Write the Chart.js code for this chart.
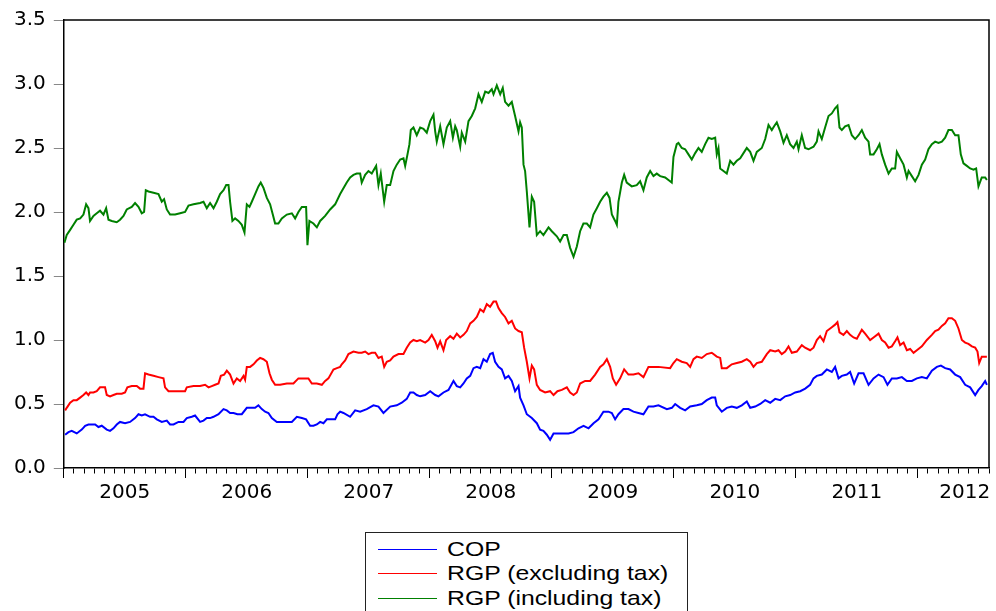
<!DOCTYPE html>
<html><head><meta charset="utf-8">
<script src="https://cdn.jsdelivr.net/npm/chart.js@4.4.1/dist/chart.umd.min.js"></script>
<style>
html,body{margin:0;padding:0;background:#fff;}
#wrap{position:relative;width:996px;height:611px;overflow:hidden;background:#fff;}
#c{position:absolute;left:0;top:0;}
#legend{position:absolute;left:365px;top:532px;width:321px;height:100px;border:1px solid #222;background:#fff;}
.ln{position:absolute;left:12px;width:59px;height:1px;}
.tx{position:absolute;left:81px;font-family:"Liberation Sans",Arial,sans-serif;font-size:21px;line-height:21px;transform:scaleX(1.18);transform-origin:0 50%;white-space:nowrap;color:#000;}
</style></head>
<body><div id="wrap"><canvas id="c" width="996" height="611"></canvas><div id="legend"></div></div>
<script>
// time values are years elapsed since 1 Jan 2005
const BASE_YEAR = 2005;
const END_YEAR = 2012 + 7/12;
const yearLabels = ['2005','2006','2007','2008','2009','2010','2011','2012'];
const seriesNames = ['COP','RGP (excluding tax)','RGP (including tax)'];
const seriesColors = ['#0000ff','#ff0000','#008000'];
const yTickValues = [0,0.5,1,1.5,2,2.5,3,3.5];

const copT = [
0.011,0.038,0.065,0.106,0.147,0.175,0.202,0.229,0.257,0.284,
0.311,0.352,0.379,0.407,0.434,0.461,0.502,0.543,0.584,0.612,
0.639,0.666,0.707,0.735,0.762,0.803,0.844,0.871,0.899,0.940,
0.981,1.008,1.049,1.076,1.117,1.145,1.172,1.199,1.227,1.268,
1.309,1.336,1.363,1.391,1.423,1.459,1.500,1.541,1.568,1.595,
1.623,1.650,1.677,1.705,1.746,1.787,1.828,1.869,1.910,1.951,
1.986,2.019,2.046,2.074,2.101,2.128,2.156,2.197,2.224,2.243,
2.265,
2.292,2.347,2.388,2.429,2.483,2.538,2.579,2.620,2.675,2.729,
2.770,2.811,2.839,2.866,2.893,2.921,2.962,3.003,3.044,3.071,
3.112,3.153,3.194,3.221,3.249,3.276,3.303,3.331,3.358,3.385,
3.413,3.440,3.467,3.494,3.516,3.535,3.563,3.590,3.617,3.645,
3.672,3.699,3.727,3.740,3.768,3.795,3.836,3.877,3.904,3.931,
3.959,3.986,4.014,4.055,4.096,4.137,4.178,4.219,4.260,4.301,
4.342,4.383,4.423,4.464,4.492,4.519,4.546,4.587,4.628,4.669,
4.710,4.751,4.792,4.833,4.874,
4.943,4.984,5.011,5.052,5.093,5.134,5.188,5.229,5.270,5.311,
5.339,5.352,5.393,5.434,5.475,5.516,5.557,5.598,5.626,5.667,
5.708,5.749,5.790,5.831,5.872,5.913,5.954,5.995,6.036,6.077,
6.117,6.145,6.172,6.213,6.254,6.295,6.322,6.350,6.377,6.418,
6.445,6.478,6.514,6.555,6.596,6.637,6.678,6.719,6.751,6.787,
6.828,6.869,6.910,6.951,6.992,7.033,7.074,7.115,7.156,7.189,
7.224,7.265,7.306,7.347,7.388,7.429,7.470,7.497,7.524,7.552,
7.566];
const copV = [
0.26,0.28,0.29,0.27,0.30,0.33,0.34,0.34,0.34,0.32,
0.33,0.30,0.29,0.31,0.34,0.36,0.35,0.36,0.39,0.42,
0.41,0.42,0.40,0.40,0.38,0.36,0.37,0.34,0.34,0.36,
0.36,0.39,0.40,0.41,0.36,0.37,0.39,0.39,0.40,0.42,
0.46,0.45,0.43,0.43,0.42,0.42,0.47,0.47,0.47,0.49,
0.46,0.44,0.43,0.39,0.36,0.36,0.36,0.36,0.40,0.39,
0.38,0.33,0.33,0.34,0.36,0.35,0.38,0.38,0.38,0.42,
0.44,
0.43,0.40,0.45,0.44,0.46,0.49,0.48,0.43,0.48,0.49,
0.51,0.54,0.59,0.59,0.57,0.56,0.57,0.60,0.57,0.56,
0.59,0.61,0.68,0.64,0.63,0.66,0.70,0.72,0.78,0.79,
0.78,0.85,0.83,0.89,0.90,0.83,0.79,0.77,0.70,0.72,
0.68,0.60,0.64,0.55,0.49,0.42,0.39,0.35,0.30,0.29,
0.26,0.22,0.27,0.27,0.27,0.27,0.28,0.31,0.33,0.31,
0.35,0.38,0.44,0.44,0.43,0.38,0.42,0.46,0.46,0.44,
0.43,0.42,0.48,0.48,0.49,
0.46,0.47,0.50,0.47,0.45,0.48,0.49,0.50,0.53,0.55,
0.55,0.49,0.44,0.47,0.48,0.47,0.49,0.52,0.47,0.48,
0.50,0.53,0.51,0.54,0.53,0.56,0.57,0.59,0.60,0.62,
0.65,0.70,0.72,0.73,0.77,0.75,0.79,0.70,0.72,0.73,
0.75,0.66,0.74,0.74,0.65,0.70,0.73,0.71,0.65,0.70,
0.70,0.71,0.68,0.68,0.70,0.71,0.70,0.76,0.79,0.80,
0.78,0.77,0.73,0.71,0.65,0.63,0.57,0.61,0.64,0.68,
0.65];

const rgpExT = [
0.011,0.024,0.052,0.079,0.106,0.134,0.161,0.183,0.202,0.215,
0.243,0.270,0.297,0.319,0.338,0.352,0.379,0.407,0.434,0.475,
0.502,0.521,0.557,0.598,0.625,0.653,0.666,0.694,0.735,0.776,
0.817,0.830,0.858,0.899,0.953,0.994,1.008,1.063,1.117,1.158,
1.186,1.213,1.240,1.268,1.287,1.314,1.336,1.363,1.391,1.418,
1.445,1.473,1.486,1.500,1.527,1.555,1.582,1.609,1.636,1.664,
1.686,1.705,1.732,1.773,1.828,1.882,1.923,1.978,2.005,2.033,
2.074,2.115,2.142,2.169,2.210,2.238,2.265,
2.278,2.306,2.333,2.374,2.415,2.442,2.470,2.497,2.524,2.552,
2.579,2.606,2.626,2.647,2.675,2.702,2.743,2.784,2.811,2.839,
2.866,2.893,2.921,2.962,2.989,3.016,3.044,3.063,3.085,3.112,
3.134,3.167,3.194,3.221,3.249,3.276,3.303,3.331,3.358,3.385,
3.413,3.440,3.467,3.494,3.522,3.543,3.563,3.590,3.617,3.645,
3.672,3.699,3.727,3.754,3.773,3.795,3.817,3.836,3.855,3.877,
3.904,3.945,3.986,4.014,4.046,4.082,4.123,4.150,4.178,4.205,
4.232,4.273,4.314,4.355,4.396,4.423,4.451,4.478,4.500,4.527,
4.560,4.593,4.628,4.669,4.710,4.751,4.792,4.833,4.874,
4.970,4.997,5.024,5.065,5.106,5.134,5.161,5.188,5.229,5.270,
5.311,5.352,5.380,5.393,5.434,5.475,5.516,5.557,5.598,5.626,
5.653,5.680,5.721,5.762,5.790,5.831,5.858,5.885,5.913,5.940,
5.967,6.008,6.049,6.076,6.117,6.145,6.172,6.199,6.227,6.254,
6.295,6.322,6.341,6.358,6.390,6.418,6.445,6.473,6.500,6.541,
6.568,6.609,6.637,6.678,6.705,6.732,6.760,6.787,6.814,6.833,
6.855,6.883,6.910,6.937,6.965,6.992,7.033,7.074,7.115,7.142,
7.169,7.197,7.224,7.251,7.279,7.306,7.333,7.361,7.388,7.415,
7.443,7.470,7.489,7.503,7.524,7.552,7.566];
const rgpExV = [
0.45,0.47,0.51,0.53,0.53,0.55,0.57,0.59,0.57,0.59,
0.59,0.60,0.63,0.63,0.63,0.57,0.56,0.57,0.58,0.58,
0.59,0.63,0.64,0.64,0.62,0.62,0.74,0.73,0.72,0.71,
0.70,0.63,0.60,0.60,0.60,0.60,0.63,0.64,0.64,0.65,
0.63,0.64,0.65,0.66,0.72,0.73,0.76,0.73,0.66,0.70,
0.68,0.72,0.69,0.79,0.79,0.81,0.84,0.86,0.85,0.83,
0.74,0.69,0.65,0.65,0.66,0.66,0.70,0.70,0.70,0.66,
0.66,0.65,0.68,0.70,0.77,0.78,0.79,
0.81,0.84,0.89,0.91,0.90,0.90,0.91,0.89,0.90,0.90,
0.86,0.87,0.79,0.83,0.84,0.87,0.89,0.89,0.94,0.98,
1.00,0.99,1.00,0.98,1.00,1.04,0.99,0.94,0.99,0.92,
1.00,1.03,1.01,1.05,1.02,1.04,1.07,1.13,1.15,1.18,
1.24,1.22,1.28,1.26,1.30,1.30,1.25,1.21,1.18,1.13,
1.15,1.09,1.07,1.06,0.94,0.83,0.70,0.80,0.77,0.65,
0.61,0.59,0.60,0.57,0.60,0.61,0.63,0.59,0.57,0.59,
0.66,0.68,0.68,0.73,0.79,0.81,0.85,0.79,0.70,0.65,
0.70,0.77,0.73,0.73,0.74,0.71,0.79,0.79,0.79,
0.78,0.82,0.85,0.83,0.82,0.79,0.85,0.87,0.86,0.89,
0.90,0.87,0.86,0.78,0.78,0.81,0.82,0.83,0.85,0.83,
0.79,0.82,0.83,0.89,0.92,0.91,0.92,0.89,0.91,0.95,
0.90,0.91,0.96,0.94,0.92,0.94,1.00,1.03,0.99,1.07,
1.10,1.12,1.14,1.06,1.04,1.07,1.04,1.02,1.01,1.08,
1.05,1.00,1.02,1.05,1.00,0.98,0.94,0.95,0.99,1.02,
0.96,0.98,0.92,0.93,0.90,0.92,0.95,1.00,1.04,1.07,
1.08,1.11,1.13,1.17,1.17,1.15,1.09,1.00,0.98,0.97,
0.95,0.94,0.91,0.82,0.87,0.87,0.87];

const rgpInT = [
0.005,0.024,0.052,0.079,0.106,0.134,0.161,0.183,0.202,0.215,
0.243,0.270,0.297,0.325,0.347,0.366,0.393,0.434,0.461,0.489,
0.516,0.557,0.584,0.612,0.639,0.658,0.672,0.694,0.735,0.776,
0.803,0.822,0.844,0.871,0.912,0.953,0.994,1.022,1.063,1.117,
1.145,1.172,1.199,1.227,1.254,1.281,1.309,1.331,1.350,1.363,
1.382,1.404,1.431,1.459,1.481,1.500,1.522,1.541,1.568,1.595,
1.614,1.636,1.664,1.691,1.713,1.732,1.759,1.787,1.828,1.869,
1.896,1.923,1.951,1.986,1.997,2.013,2.046,2.074,2.101,2.142,
2.183,2.224,2.265,
2.319,2.347,2.374,2.401,2.429,2.442,2.470,2.497,2.524,2.560,
2.579,2.598,2.626,2.647,2.675,2.702,2.729,2.757,2.784,2.798,
2.817,2.833,2.844,2.866,2.893,2.921,2.948,2.975,3.003,3.030,
3.044,3.057,3.085,3.112,3.139,3.167,3.189,3.208,3.221,3.249,
3.262,3.290,3.317,3.344,3.372,3.399,3.426,3.454,3.481,3.508,
3.522,3.549,3.577,3.598,3.617,3.645,3.672,3.699,3.727,3.740,
3.754,3.768,3.781,3.795,3.817,3.836,3.855,3.877,3.904,3.931,
3.973,4.000,4.041,4.068,4.096,4.123,4.150,4.178,4.205,4.232,
4.259,4.287,4.314,4.341,4.369,4.396,4.423,4.451,4.473,4.492,
4.519,4.533,4.546,4.574,4.593,4.614,4.655,4.696,4.724,4.751,
4.778,4.806,4.833,4.860,
4.888,4.929,4.956,4.983,4.997,5.024,5.038,5.065,5.093,5.120,
5.147,5.175,5.202,5.229,5.257,5.284,5.311,5.339,5.352,5.366,
5.380,5.407,5.434,5.462,5.489,5.516,5.544,5.571,5.598,5.626,
5.653,5.680,5.721,5.749,5.776,5.803,5.822,5.844,5.872,5.899,
5.926,5.953,5.981,6.008,6.022,6.049,6.076,6.104,6.145,6.172,
6.186,6.213,6.240,6.268,6.295,6.322,6.341,6.358,6.377,6.404,
6.432,6.459,6.486,6.514,6.541,6.568,6.596,6.609,6.637,6.664,
6.686,6.705,6.732,6.760,6.787,6.814,6.828,6.855,6.883,6.910,
6.924,6.951,6.978,7.006,7.033,7.060,7.087,7.115,7.142,7.169,
7.197,7.224,7.251,7.279,7.306,7.333,7.352,7.374,7.402,7.429,
7.456,7.478,7.497,7.524,7.552,7.566];
const rgpInV = [
1.76,1.82,1.86,1.90,1.94,1.95,1.98,2.06,2.03,1.93,
1.97,1.99,2.01,1.98,2.03,1.94,1.93,1.92,1.94,1.97,
2.02,2.04,2.07,2.04,1.99,2.00,2.17,2.16,2.15,2.14,
2.08,2.10,2.02,1.98,1.98,1.99,2.00,2.05,2.06,2.07,
2.08,2.03,2.07,2.03,2.08,2.14,2.17,2.21,2.21,2.08,
1.93,1.95,1.93,1.90,1.84,2.06,2.04,2.08,2.14,2.20,
2.23,2.19,2.11,2.06,1.98,1.91,1.91,1.95,1.98,1.99,
1.95,2.00,2.04,2.04,1.74,1.93,1.91,1.88,1.93,1.97,
2.02,2.06,2.14,
2.23,2.27,2.29,2.30,2.30,2.23,2.29,2.32,2.30,2.36,
2.21,2.30,2.08,2.21,2.21,2.32,2.37,2.41,2.42,2.36,
2.45,2.53,2.64,2.66,2.60,2.66,2.65,2.62,2.71,2.76,
2.63,2.55,2.67,2.53,2.66,2.71,2.58,2.67,2.64,2.51,
2.62,2.55,2.71,2.75,2.81,2.92,2.86,2.94,2.93,2.96,
2.92,2.99,2.92,2.97,2.86,2.83,2.86,2.75,2.63,2.70,
2.66,2.37,2.32,2.16,1.88,2.12,2.08,1.82,1.85,1.82,
1.88,1.85,1.81,1.77,1.82,1.82,1.72,1.65,1.73,1.85,
1.91,1.91,1.88,1.98,2.03,2.08,2.12,2.15,2.11,1.98,
1.93,1.90,2.08,2.23,2.29,2.23,2.20,2.21,2.24,2.17,
2.27,2.32,2.28,2.30,
2.28,2.27,2.25,2.23,2.43,2.53,2.54,2.50,2.49,2.45,
2.41,2.46,2.50,2.47,2.53,2.58,2.57,2.58,2.45,2.50,
2.34,2.32,2.30,2.40,2.37,2.40,2.42,2.46,2.50,2.47,
2.40,2.47,2.50,2.57,2.68,2.64,2.67,2.70,2.63,2.54,
2.60,2.53,2.50,2.55,2.49,2.60,2.50,2.49,2.51,2.55,
2.63,2.57,2.66,2.75,2.77,2.81,2.83,2.66,2.64,2.67,
2.68,2.60,2.57,2.60,2.64,2.58,2.55,2.45,2.45,2.49,
2.53,2.45,2.37,2.30,2.34,2.34,2.47,2.42,2.37,2.27,
2.32,2.28,2.24,2.29,2.37,2.41,2.49,2.53,2.55,2.54,
2.55,2.58,2.64,2.64,2.60,2.60,2.45,2.38,2.36,2.34,
2.33,2.34,2.20,2.27,2.27,2.25];

function pts(t, v) {
  const n = Math.min(t.length, v.length);
  const out = [];
  for (let i = 0; i < n; i++) out.push({x: BASE_YEAR + t[i], y: v[i]});
  return out;
}

// x-axis ticks: a mark at every month, year label under mid-year
const LAST_LABEL_AT = 2012.384;
const tickDefs = [];
for (let m = 0; m <= Math.round((END_YEAR - BASE_YEAR) * 12); m++) {
  const yi = Math.floor(m / 12);
  const lab = (m % 12 === 6 && yi < yearLabels.length - 1) ? yearLabels[yi] : '';
  tickDefs.push({value: BASE_YEAR + m / 12, major: m % 12 === 0, label: lab, hidden: false});
}
tickDefs.push({value: LAST_LABEL_AT, major: false, label: yearLabels[yearLabels.length - 1], hidden: true});
tickDefs.sort((a, b) => a.value - b.value);

const framePlugin = {
  id: 'frame',
  afterDraw(chart) {
    const {ctx, chartArea: a} = chart;
    ctx.save();
    ctx.strokeStyle = '#000';
    ctx.lineWidth = 1.5;
    ctx.beginPath();
    ctx.moveTo(a.left, a.top);
    ctx.lineTo(a.right, a.top);
    ctx.lineTo(a.right, a.bottom);
    ctx.stroke();
    ctx.restore();
  }
};

const chart = new Chart(document.getElementById('c'), {
  type: 'line',
  data: {
    datasets: [
      {label: seriesNames[0], data: pts(copT, copV), borderColor: seriesColors[0]},
      {label: seriesNames[1], data: pts(rgpExT, rgpExV), borderColor: seriesColors[1]},
      {label: seriesNames[2], data: pts(rgpInT, rgpInV), borderColor: seriesColors[2]}
    ]
  },
  options: {
    responsive: false,
    animation: false,
    devicePixelRatio: 1,
    layout: {padding: {left: 6, top: 18, right: 7, bottom: 103}},
    elements: {point: {radius: 0}, line: {borderWidth: 2, tension: 0}},
    plugins: {legend: {display: false}, tooltip: {enabled: false}},
    scales: {
      x: {
        type: 'linear',
        min: BASE_YEAR,
        max: END_YEAR,
        afterBuildTicks: (scale) => { scale.ticks = tickDefs.map(d => ({value: d.value})); },
        ticks: {
          autoSkip: false, maxRotation: 0, minRotation: 0, padding: 3,
          color: '#000',
          font: {family: '"DejaVu Sans"', size: 20},
          callback: (v, i) => tickDefs[i] ? tickDefs[i].label : ''
        },
        grid: {
          drawOnChartArea: false,
          tickLength: 10,
          tickWidth: 1,
          tickColor: (c) => (tickDefs[c.index] && tickDefs[c.index].hidden) ? 'rgba(0,0,0,0)' : '#000',
          tickBorderDash: (c) => (tickDefs[c.index] && tickDefs[c.index].major) ? [] : [5, 40]
        },
        border: {display: true, color: '#000', width: 1.5}
      },
      y: {
        min: 0, max: 3.5,
        afterBuildTicks: (scale) => { scale.ticks = yTickValues.map(v => ({value: v})); },
        ticks: {
          padding: 8, color: '#000',
          font: {family: '"DejaVu Sans"', size: 20},
          callback: (v) => Number(v).toFixed(1)
        },
        grid: {drawOnChartArea: false, tickLength: 10, tickColor: '#888', tickWidth: 1},
        border: {display: true, color: '#000', width: 1.5}
      }
    }
  },
  plugins: [framePlugin]
});

// HTML legend built from the chart's datasets
const legend = document.getElementById('legend');
const rowLineTop = [16, 40, 65];
const rowTextTop = [5, 29, 54];
chart.data.datasets.forEach((ds, i) => {
  const ln = document.createElement('div');
  ln.className = 'ln';
  ln.style.top = rowLineTop[i] + 'px';
  ln.style.backgroundColor = seriesColors[i];
  legend.appendChild(ln);
  const tx = document.createElement('div');
  tx.className = 'tx';
  tx.style.top = rowTextTop[i] + 'px';
  tx.textContent = ds.label;
  legend.appendChild(tx);
});
</script></body></html>
